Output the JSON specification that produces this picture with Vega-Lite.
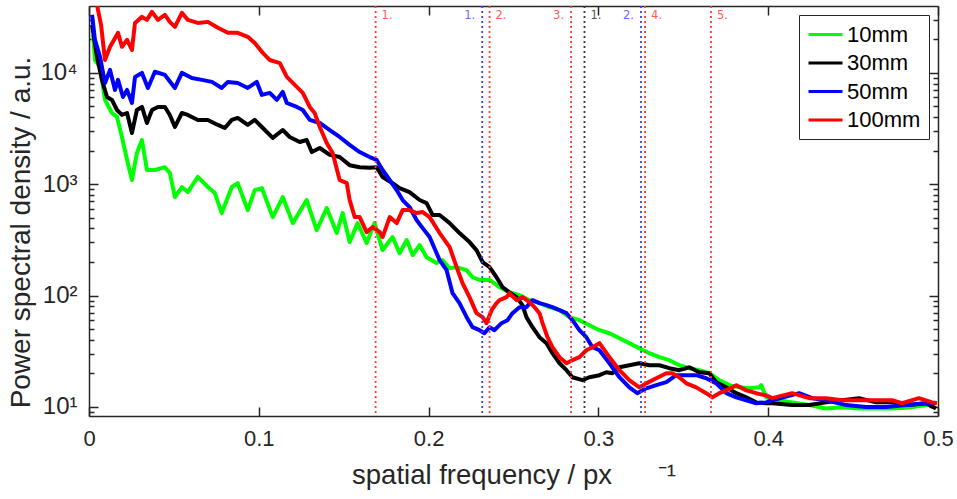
{
  "$schema": "https://vega.github.io/schema/vega-lite/v6.json",
  "width": 849,
  "height": 410,
  "autosize": {"type": "none"},
  "padding": {"left": 89, "top": 6, "right": 19, "bottom": 83},
  "background": "white",
  "config": {"view": {"stroke": null}, "font": "Liberation Sans", "axis": {"grid": false}},
  "datasets": {
    "curves": [
      {"s":"10mm","f":0.0024,"p":21900},{"s":"10mm","f":0.0035,"p":13000},{"s":"10mm","f":0.0065,"p":11300},{"s":"10mm","f":0.0094,"p":5700},{"s":"10mm","f":0.0135,"p":4350},{"s":"10mm","f":0.0165,"p":4010},{"s":"10mm","f":0.0194,"p":2650},{"s":"10mm","f":0.0224,"p":1650},{"s":"10mm","f":0.0253,"p":1090},{"s":"10mm","f":0.0282,"p":1900},{"s":"10mm","f":0.0312,"p":2490},{"s":"10mm","f":0.0341,"p":1340},{"s":"10mm","f":0.0388,"p":1340},{"s":"10mm","f":0.0447,"p":1420},{"s":"10mm","f":0.0476,"p":1260},{"s":"10mm","f":0.0506,"p":766},{"s":"10mm","f":0.0547,"p":942},{"s":"10mm","f":0.0582,"p":849},{"s":"10mm","f":0.0641,"p":1160},{"s":"10mm","f":0.0700,"p":942},{"s":"10mm","f":0.0741,"p":832},{"s":"10mm","f":0.0782,"p":550},{"s":"10mm","f":0.0841,"p":942},{"s":"10mm","f":0.0876,"p":1020},{"s":"10mm","f":0.0935,"p":585},{"s":"10mm","f":0.0976,"p":885},{"s":"10mm","f":0.1018,"p":922},{"s":"10mm","f":0.1082,"p":506},{"s":"10mm","f":0.1141,"p":766},{"s":"10mm","f":0.1200,"p":447},{"s":"10mm","f":0.1282,"p":720},{"s":"10mm","f":0.1341,"p":387},{"s":"10mm","f":0.1400,"p":610},{"s":"10mm","f":0.1459,"p":364},{"s":"10mm","f":0.1494,"p":550},{"s":"10mm","f":0.1535,"p":302},{"s":"10mm","f":0.1582,"p":447},{"s":"10mm","f":0.1635,"p":296},{"s":"10mm","f":0.1682,"p":447},{"s":"10mm","f":0.1729,"p":256},{"s":"10mm","f":0.1788,"p":335},{"s":"10mm","f":0.1829,"p":240},{"s":"10mm","f":0.1871,"p":315},{"s":"10mm","f":0.1906,"p":231},{"s":"10mm","f":0.1947,"p":284},{"s":"10mm","f":0.1988,"p":221},{"s":"10mm","f":0.2047,"p":196},{"s":"10mm","f":0.2082,"p":208},{"s":"10mm","f":0.2124,"p":176},{"s":"10mm","f":0.2165,"p":180},{"s":"10mm","f":0.2224,"p":169},{"s":"10mm","f":0.2259,"p":146},{"s":"10mm","f":0.2300,"p":138},{"s":"10mm","f":0.2359,"p":138},{"s":"10mm","f":0.2418,"p":119},{"s":"10mm","f":0.2476,"p":107},{"s":"10mm","f":0.2535,"p":101},{"s":"10mm","f":0.2594,"p":90.9},{"s":"10mm","f":0.2653,"p":85.4},{"s":"10mm","f":0.2712,"p":78.7},{"s":"10mm","f":0.2771,"p":73.9},{"s":"10mm","f":0.2829,"p":64.0},{"s":"10mm","f":0.2888,"p":60.1},{"s":"10mm","f":0.2947,"p":54.2},{"s":"10mm","f":0.3006,"p":48.9},{"s":"10mm","f":0.3065,"p":45.9},{"s":"10mm","f":0.3124,"p":41.4},{"s":"10mm","f":0.3182,"p":37.4},{"s":"10mm","f":0.3241,"p":33.7},{"s":"10mm","f":0.3300,"p":30.4},{"s":"10mm","f":0.3359,"p":28.0},{"s":"10mm","f":0.3418,"p":26.3},{"s":"10mm","f":0.3476,"p":23.7},{"s":"10mm","f":0.3535,"p":22.3},{"s":"10mm","f":0.3594,"p":21.4},{"s":"10mm","f":0.3653,"p":20.1},{"s":"10mm","f":0.3712,"p":17.4},{"s":"10mm","f":0.3771,"p":15.7},{"s":"10mm","f":0.3829,"p":15.0},{"s":"10mm","f":0.3888,"p":14.7},{"s":"10mm","f":0.3947,"p":15.0},{"s":"10mm","f":0.3959,"p":15.7},{"s":"10mm","f":0.3988,"p":12.2},{"s":"10mm","f":0.4065,"p":11.5},{"s":"10mm","f":0.4141,"p":11.0},{"s":"10mm","f":0.4241,"p":10.4},{"s":"10mm","f":0.4341,"p":9.7},{"s":"10mm","f":0.4435,"p":9.94},{"s":"10mm","f":0.4535,"p":9.7},{"s":"10mm","f":0.4635,"p":9.7},{"s":"10mm","f":0.4729,"p":9.7},{"s":"10mm","f":0.4829,"p":9.9},{"s":"10mm","f":0.4929,"p":10.4},{"s":"10mm","f":0.4988,"p":11.0},
      {"s":"30mm","f":0.0018,"p":26900},{"s":"30mm","f":0.0047,"p":13900},{"s":"30mm","f":0.0076,"p":8620},{"s":"30mm","f":0.0106,"p":6060},{"s":"30mm","f":0.0135,"p":5700},{"s":"30mm","f":0.0165,"p":4630},{"s":"30mm","f":0.0194,"p":4180},{"s":"30mm","f":0.0224,"p":4350},{"s":"30mm","f":0.0253,"p":2880},{"s":"30mm","f":0.0282,"p":4630},{"s":"30mm","f":0.0312,"p":4930},{"s":"30mm","f":0.0341,"p":3540},{"s":"30mm","f":0.0371,"p":4630},{"s":"30mm","f":0.0406,"p":4930},{"s":"30mm","f":0.0447,"p":4930},{"s":"30mm","f":0.0476,"p":4180},{"s":"30mm","f":0.0506,"p":3260},{"s":"30mm","f":0.0547,"p":4350},{"s":"30mm","f":0.0582,"p":4180},{"s":"30mm","f":0.0641,"p":3770},{"s":"30mm","f":0.0700,"p":3770},{"s":"30mm","f":0.0759,"p":3400},{"s":"30mm","f":0.0800,"p":3190},{"s":"30mm","f":0.0841,"p":3770},{"s":"30mm","f":0.0876,"p":3930},{"s":"30mm","f":0.0935,"p":3400},{"s":"30mm","f":0.0976,"p":3770},{"s":"30mm","f":0.1018,"p":3260},{"s":"30mm","f":0.1082,"p":2600},{"s":"30mm","f":0.1141,"p":3060},{"s":"30mm","f":0.1182,"p":2650},{"s":"30mm","f":0.1241,"p":2390},{"s":"30mm","f":0.1282,"p":2490},{"s":"30mm","f":0.1312,"p":1940},{"s":"30mm","f":0.1359,"p":2110},{"s":"30mm","f":0.1418,"p":1830},{"s":"30mm","f":0.1476,"p":1750},{"s":"30mm","f":0.1535,"p":1480},{"s":"30mm","f":0.1594,"p":1420},{"s":"30mm","f":0.1653,"p":1400},{"s":"30mm","f":0.1694,"p":1420},{"s":"30mm","f":0.1729,"p":1160},{"s":"30mm","f":0.1788,"p":1020},{"s":"30mm","f":0.1829,"p":922},{"s":"30mm","f":0.1888,"p":849},{"s":"30mm","f":0.1947,"p":720},{"s":"30mm","f":0.1988,"p":676},{"s":"30mm","f":0.2024,"p":528},{"s":"30mm","f":0.2065,"p":528},{"s":"30mm","f":0.2124,"p":447},{"s":"30mm","f":0.2182,"p":364},{"s":"30mm","f":0.2241,"p":302},{"s":"30mm","f":0.2282,"p":256},{"s":"30mm","f":0.2318,"p":200},{"s":"30mm","f":0.2359,"p":180},{"s":"30mm","f":0.2400,"p":146},{"s":"30mm","f":0.2435,"p":119},{"s":"30mm","f":0.2476,"p":107},{"s":"30mm","f":0.2518,"p":96.8},{"s":"30mm","f":0.2553,"p":82.0},{"s":"30mm","f":0.2576,"p":64.0},{"s":"30mm","f":0.2612,"p":52.0},{"s":"30mm","f":0.2653,"p":42.3},{"s":"30mm","f":0.2694,"p":37.4},{"s":"30mm","f":0.2729,"p":30.4},{"s":"30mm","f":0.2771,"p":24.7},{"s":"30mm","f":0.2812,"p":21.4},{"s":"30mm","f":0.2847,"p":18.5},{"s":"30mm","f":0.2906,"p":17.4},{"s":"30mm","f":0.2947,"p":18.5},{"s":"30mm","f":0.3006,"p":19.3},{"s":"30mm","f":0.3047,"p":20.5},{"s":"30mm","f":0.3082,"p":20.1},{"s":"30mm","f":0.3124,"p":22.7},{"s":"30mm","f":0.3182,"p":23.7},{"s":"30mm","f":0.3241,"p":24.7},{"s":"30mm","f":0.3300,"p":23.7},{"s":"30mm","f":0.3359,"p":23.7},{"s":"30mm","f":0.3418,"p":22.3},{"s":"30mm","f":0.3476,"p":21.4},{"s":"30mm","f":0.3535,"p":22.7},{"s":"30mm","f":0.3594,"p":20.5},{"s":"30mm","f":0.3653,"p":20.1},{"s":"30mm","f":0.3694,"p":16.7},{"s":"30mm","f":0.3753,"p":15.0},{"s":"30mm","f":0.3812,"p":13.3},{"s":"30mm","f":0.3871,"p":12.2},{"s":"30mm","f":0.3929,"p":11.0},{"s":"30mm","f":0.3988,"p":10.8},{"s":"30mm","f":0.4024,"p":10.8},{"s":"30mm","f":0.4141,"p":10.4},{"s":"30mm","f":0.4241,"p":10.4},{"s":"30mm","f":0.4341,"p":11.0},{"s":"30mm","f":0.4435,"p":11.5},{"s":"30mm","f":0.4535,"p":12.0},{"s":"30mm","f":0.4635,"p":11.0},{"s":"30mm","f":0.4729,"p":11.0},{"s":"30mm","f":0.4829,"p":10.4},{"s":"30mm","f":0.4929,"p":10.8},{"s":"30mm","f":0.4988,"p":9.7},
      {"s":"50mm","f":0.0018,"p":33100},{"s":"50mm","f":0.0035,"p":19700},{"s":"50mm","f":0.0065,"p":13900},{"s":"50mm","f":0.0094,"p":8100},{"s":"50mm","f":0.0124,"p":10600},{"s":"50mm","f":0.0153,"p":7010},{"s":"50mm","f":0.0171,"p":8620},{"s":"50mm","f":0.0200,"p":6060},{"s":"50mm","f":0.0224,"p":7010},{"s":"50mm","f":0.0253,"p":5350},{"s":"50mm","f":0.0271,"p":9170},{"s":"50mm","f":0.0312,"p":9960},{"s":"50mm","f":0.0347,"p":7300},{"s":"50mm","f":0.0388,"p":10200},{"s":"50mm","f":0.0447,"p":9550},{"s":"50mm","f":0.0506,"p":7300},{"s":"50mm","f":0.0547,"p":9960},{"s":"50mm","f":0.0606,"p":8980},{"s":"50mm","f":0.0665,"p":8620},{"s":"50mm","f":0.0724,"p":8270},{"s":"50mm","f":0.0782,"p":7300},{"s":"50mm","f":0.0818,"p":8270},{"s":"50mm","f":0.0876,"p":8100},{"s":"50mm","f":0.0935,"p":7300},{"s":"50mm","f":0.0988,"p":8270},{"s":"50mm","f":0.1018,"p":6320},{"s":"50mm","f":0.1065,"p":6590},{"s":"50mm","f":0.1106,"p":5700},{"s":"50mm","f":0.1141,"p":6720},{"s":"50mm","f":0.1165,"p":5350},{"s":"50mm","f":0.1224,"p":4930},{"s":"50mm","f":0.1259,"p":4630},{"s":"50mm","f":0.1300,"p":3770},{"s":"50mm","f":0.1359,"p":3540},{"s":"50mm","f":0.1418,"p":3060},{"s":"50mm","f":0.1476,"p":2650},{"s":"50mm","f":0.1535,"p":2250},{"s":"50mm","f":0.1594,"p":1940},{"s":"50mm","f":0.1653,"p":1750},{"s":"50mm","f":0.1694,"p":1650},{"s":"50mm","f":0.1729,"p":1340},{"s":"50mm","f":0.1771,"p":1090},{"s":"50mm","f":0.1812,"p":885},{"s":"50mm","f":0.1847,"p":720},{"s":"50mm","f":0.1888,"p":623},{"s":"50mm","f":0.1929,"p":476},{"s":"50mm","f":0.1965,"p":403},{"s":"50mm","f":0.2006,"p":335},{"s":"50mm","f":0.2065,"p":208},{"s":"50mm","f":0.2106,"p":169},{"s":"50mm","f":0.2141,"p":105},{"s":"50mm","f":0.2182,"p":85.4},{"s":"50mm","f":0.2224,"p":64.0},{"s":"50mm","f":0.2259,"p":52.0},{"s":"50mm","f":0.2300,"p":48.9},{"s":"50mm","f":0.2329,"p":45.9},{"s":"50mm","f":0.2359,"p":52.0},{"s":"50mm","f":0.2388,"p":48.9},{"s":"50mm","f":0.2429,"p":56.5},{"s":"50mm","f":0.2465,"p":60.1},{"s":"50mm","f":0.2494,"p":69.5},{"s":"50mm","f":0.2535,"p":78.7},{"s":"50mm","f":0.2576,"p":78.7},{"s":"50mm","f":0.2612,"p":90.9},{"s":"50mm","f":0.2653,"p":85.4},{"s":"50mm","f":0.2694,"p":82.0},{"s":"50mm","f":0.2729,"p":78.7},{"s":"50mm","f":0.2771,"p":73.9},{"s":"50mm","f":0.2812,"p":69.5},{"s":"50mm","f":0.2847,"p":60.1},{"s":"50mm","f":0.2888,"p":48.9},{"s":"50mm","f":0.2929,"p":42.3},{"s":"50mm","f":0.2965,"p":34.4},{"s":"50mm","f":0.3006,"p":32.3},{"s":"50mm","f":0.3065,"p":24.7},{"s":"50mm","f":0.3124,"p":18.5},{"s":"50mm","f":0.3182,"p":15.0},{"s":"50mm","f":0.3229,"p":13.3},{"s":"50mm","f":0.3282,"p":14.7},{"s":"50mm","f":0.3341,"p":15.7},{"s":"50mm","f":0.3400,"p":16.7},{"s":"50mm","f":0.3459,"p":19.3},{"s":"50mm","f":0.3518,"p":19.3},{"s":"50mm","f":0.3576,"p":19.3},{"s":"50mm","f":0.3635,"p":18.1},{"s":"50mm","f":0.3694,"p":16.3},{"s":"50mm","f":0.3753,"p":13.3},{"s":"50mm","f":0.3812,"p":12.2},{"s":"50mm","f":0.3871,"p":11.5},{"s":"50mm","f":0.3929,"p":10.8},{"s":"50mm","f":0.3988,"p":11.0},{"s":"50mm","f":0.4024,"p":11.5},{"s":"50mm","f":0.4182,"p":13.3},{"s":"50mm","f":0.4259,"p":12.0},{"s":"50mm","f":0.4341,"p":11.5},{"s":"50mm","f":0.4459,"p":10.4},{"s":"50mm","f":0.4576,"p":10.0},{"s":"50mm","f":0.4694,"p":10.0},{"s":"50mm","f":0.4812,"p":10.4},{"s":"50mm","f":0.4929,"p":10.8},{"s":"50mm","f":0.4988,"p":10.8},
      {"s":"100mm","f":0.0024,"p":68200},{"s":"100mm","f":0.0053,"p":36700},{"s":"100mm","f":0.0071,"p":26900},{"s":"100mm","f":0.0094,"p":13000},{"s":"100mm","f":0.0124,"p":17100},{"s":"100mm","f":0.0147,"p":19700},{"s":"100mm","f":0.0171,"p":22800},{"s":"100mm","f":0.0194,"p":17100},{"s":"100mm","f":0.0224,"p":19700},{"s":"100mm","f":0.0253,"p":16000},{"s":"100mm","f":0.0271,"p":28000},{"s":"100mm","f":0.0312,"p":31700},{"s":"100mm","f":0.0341,"p":29800},{"s":"100mm","f":0.0371,"p":35200},{"s":"100mm","f":0.0406,"p":29800},{"s":"100mm","f":0.0447,"p":33100},{"s":"100mm","f":0.0476,"p":28600},{"s":"100mm","f":0.0506,"p":25800},{"s":"100mm","f":0.0547,"p":34500},{"s":"100mm","f":0.0582,"p":29800},{"s":"100mm","f":0.0641,"p":28000},{"s":"100mm","f":0.0700,"p":28600},{"s":"100mm","f":0.0759,"p":25300},{"s":"100mm","f":0.0818,"p":22800},{"s":"100mm","f":0.0876,"p":22800},{"s":"100mm","f":0.0935,"p":21000},{"s":"100mm","f":0.0976,"p":18500},{"s":"100mm","f":0.1018,"p":15400},{"s":"100mm","f":0.1065,"p":13000},{"s":"100mm","f":0.1124,"p":12200},{"s":"100mm","f":0.1165,"p":9170},{"s":"100mm","f":0.1200,"p":8100},{"s":"100mm","f":0.1259,"p":6590},{"s":"100mm","f":0.1300,"p":4930},{"s":"100mm","f":0.1329,"p":4350},{"s":"100mm","f":0.1359,"p":3260},{"s":"100mm","f":0.1400,"p":2340},{"s":"100mm","f":0.1435,"p":1900},{"s":"100mm","f":0.1476,"p":1090},{"s":"100mm","f":0.1518,"p":1020},{"s":"100mm","f":0.1535,"p":720},{"s":"100mm","f":0.1565,"p":506},{"s":"100mm","f":0.1594,"p":506},{"s":"100mm","f":0.1635,"p":371},{"s":"100mm","f":0.1671,"p":412},{"s":"100mm","f":0.1712,"p":371},{"s":"100mm","f":0.1729,"p":335},{"s":"100mm","f":0.1771,"p":506},{"s":"100mm","f":0.1812,"p":447},{"s":"100mm","f":0.1847,"p":585},{"s":"100mm","f":0.1888,"p":585},{"s":"100mm","f":0.1929,"p":550},{"s":"100mm","f":0.1965,"p":562},{"s":"100mm","f":0.2006,"p":506},{"s":"100mm","f":0.2065,"p":364},{"s":"100mm","f":0.2124,"p":272},{"s":"100mm","f":0.2165,"p":180},{"s":"100mm","f":0.2200,"p":129},{"s":"100mm","f":0.2241,"p":96.8},{"s":"100mm","f":0.2282,"p":69.5},{"s":"100mm","f":0.2318,"p":64.0},{"s":"100mm","f":0.2341,"p":56.5},{"s":"100mm","f":0.2371,"p":73.9},{"s":"100mm","f":0.2400,"p":85.4},{"s":"100mm","f":0.2418,"p":90.9},{"s":"100mm","f":0.2459,"p":96.8},{"s":"100mm","f":0.2476,"p":105},{"s":"100mm","f":0.2518,"p":90.9},{"s":"100mm","f":0.2553,"p":96.8},{"s":"100mm","f":0.2594,"p":87.2},{"s":"100mm","f":0.2624,"p":78.7},{"s":"100mm","f":0.2653,"p":69.5},{"s":"100mm","f":0.2671,"p":56.5},{"s":"100mm","f":0.2700,"p":42.3},{"s":"100mm","f":0.2729,"p":34.4},{"s":"100mm","f":0.2771,"p":28.0},{"s":"100mm","f":0.2812,"p":24.7},{"s":"100mm","f":0.2847,"p":26.3},{"s":"100mm","f":0.2888,"p":28.0},{"s":"100mm","f":0.2929,"p":32.3},{"s":"100mm","f":0.2965,"p":34.4},{"s":"100mm","f":0.3006,"p":37.4},{"s":"100mm","f":0.3065,"p":28.0},{"s":"100mm","f":0.3124,"p":21.4},{"s":"100mm","f":0.3182,"p":17.4},{"s":"100mm","f":0.3241,"p":15.0},{"s":"100mm","f":0.3282,"p":16.3},{"s":"100mm","f":0.3341,"p":18.1},{"s":"100mm","f":0.3400,"p":20.1},{"s":"100mm","f":0.3435,"p":20.1},{"s":"100mm","f":0.3476,"p":18.5},{"s":"100mm","f":0.3518,"p":16.3},{"s":"100mm","f":0.3576,"p":15.0},{"s":"100mm","f":0.3635,"p":13.3},{"s":"100mm","f":0.3671,"p":12.2},{"s":"100mm","f":0.3712,"p":13.3},{"s":"100mm","f":0.3753,"p":14.1},{"s":"100mm","f":0.3812,"p":15.7},{"s":"100mm","f":0.3871,"p":14.1},{"s":"100mm","f":0.3929,"p":13.3},{"s":"100mm","f":0.3988,"p":12.7},{"s":"100mm","f":0.4024,"p":12.0},{"s":"100mm","f":0.4141,"p":13.3},{"s":"100mm","f":0.4241,"p":12.0},{"s":"100mm","f":0.4341,"p":12.0},{"s":"100mm","f":0.4435,"p":11.5},{"s":"100mm","f":0.4535,"p":11.5},{"s":"100mm","f":0.4635,"p":11.5},{"s":"100mm","f":0.4729,"p":11.5},{"s":"100mm","f":0.4788,"p":10.8},{"s":"100mm","f":0.4888,"p":12.0},{"s":"100mm","f":0.4965,"p":11.0},{"s":"100mm","f":0.4994,"p":10.8}
    ],
    "markers": [
      {"f":0.1688,"s":"100mm","t":"1."},{"f":0.2316,"s":"50mm","t":"1."},{"f":0.2359,"s":"100mm","t":"2."},{"f":0.2839,"s":"100mm","t":"3."},{"f":0.2918,"s":"30mm","t":"1."},{"f":0.3251,"s":"50mm","t":"2."},{"f":0.3275,"s":"100mm","t":"4."},{"f":0.3663,"s":"100mm","t":"5."}
    ]
  },
  "layer": [
    {
      "data": {"name": "curves"},
      "mark": {"type": "line", "strokeWidth": 4, "clip": true, "strokeJoin": "round"},
      "encoding": {
        "x": {"field": "f", "type": "quantitative", "scale": {"domain": [0, 0.5], "nice": false, "zero": false},
          "axis": {"orient": "bottom", "values": [0, 0.1, 0.2, 0.3, 0.4, 0.5], "labelExpr": "datum.value == 0 ? '0' : format(datum.value, '.1f')", "tickSize": -9, "tickWidth": 1.5, "tickColor": "#262626", "domainColor": "#262626", "domainWidth": 1.5, "labelFontSize": 22, "labelColor": "#262626", "labelPadding": 21, "labelFlush": false, "labelOverlap": false,
            "title": "spatial frequency / px\u00a0\u00a0\u00a0\u00a0\u00a0\u00a0⁻¹", "titleFontSize": 27.5, "titleFontWeight": "normal", "titleColor": "#262626", "titlePadding": 12}},
        "y": {"field": "p", "type": "quantitative", "scale": {"type": "log", "domain": [8.3, 39700], "nice": false},
          "axis": {"orient": "left", "values": [9, 10, 20, 30, 40, 50, 60, 70, 80, 90, 100, 200, 300, 400, 500, 600, 700, 800, 900, 1000, 2000, 3000, 4000, 5000, 6000, 7000, 8000, 9000, 10000, 20000, 30000],
            "labelExpr": "datum.value == 10 ? '10¹' : datum.value == 100 ? '10²' : datum.value == 1000 ? '10³' : datum.value == 10000 ? '10⁴' : ''",
            "tickSize": {"condition": {"test": "datum.value == 10 || datum.value == 100 || datum.value == 1000 || datum.value == 10000", "value": -9}, "value": -5},
            "tickWidth": 1.5, "tickColor": "#262626", "domainColor": "#262626", "domainWidth": 1.5, "labelFontSize": 24, "labelColor": "#262626", "labelPadding": 21, "labelOverlap": false, "labelFlush": false,
            "title": "Power spectral density / a.u.", "titleFontSize": 28, "titleFontWeight": "normal", "titleColor": "#262626", "titlePadding": 4, "titleY": 226}},
        "color": {"field": "s", "type": "nominal", "scale": {"domain": ["10mm", "30mm", "50mm", "100mm"], "range": ["#00ff00", "#000000", "#0000ff", "#ff0000"]},
          "legend": {"title": null, "orient": "top-right", "offset": 9, "strokeColor": "#262626", "fillColor": "white", "padding": 8, "symbolType": "M-1,0H2.4", "symbolSize": 400, "symbolStrokeWidth": 3, "labelFontSize": 22, "labelColor": "#000000", "rowPadding": 5.5, "labelOffset": 17, "labelLimit": 200}}
      }
    },
    {
      "data": {"name": "markers"},
      "mark": {"type": "rule", "strokeDash": [2, 3], "strokeWidth": 1.8},
      "encoding": {
        "x": {"field": "f", "type": "quantitative", "axis": null},
        "stroke": {"field": "s", "type": "nominal", "scale": {"domain": ["100mm", "50mm", "30mm"], "range": ["#ff3b3b", "#3b3bff", "#3a3a3a"]}, "legend": null}
      }
    },
    {
      "data": {"name": "markers"},
      "mark": {"type": "text", "font": "DejaVu Sans", "fontSize": 11.5, "baseline": "middle",
        "align": {"expr": "datum.s == '50mm' || datum.t == '3.' ? 'right' : 'left'"},
        "dx": {"expr": "datum.s == '50mm' || datum.t == '3.' ? -7 : 6"}},
      "encoding": {
        "x": {"field": "f", "type": "quantitative",
          "axis": {"orient": "top", "values": [0, 0.1, 0.2, 0.3, 0.4, 0.5], "labels": false, "tickSize": -9, "tickWidth": 1.5, "tickColor": "#262626", "domainColor": "#262626", "domainWidth": 1.5, "title": null}},
        "y": {"datum": 32400, "type": "quantitative",
          "axis": {"orient": "right", "values": [9, 10, 20, 30, 40, 50, 60, 70, 80, 90, 100, 200, 300, 400, 500, 600, 700, 800, 900, 1000, 2000, 3000, 4000, 5000, 6000, 7000, 8000, 9000, 10000, 20000, 30000], "labels": false,
            "tickSize": {"condition": {"test": "datum.value == 10 || datum.value == 100 || datum.value == 1000 || datum.value == 10000", "value": -9}, "value": -5},
            "tickWidth": 1.5, "tickColor": "#262626", "domainColor": "#262626", "domainWidth": 1.5, "title": null}},
        "text": {"field": "t"},
        "fill": {"field": "s", "type": "nominal", "scale": {"domain": ["100mm", "50mm", "30mm"], "range": ["#ff5a5a", "#6a6aff", "#555555"]}, "legend": null}
      }
    }
  ],
  "resolve": {"axis": {"x": "independent", "y": "independent"}}
}
